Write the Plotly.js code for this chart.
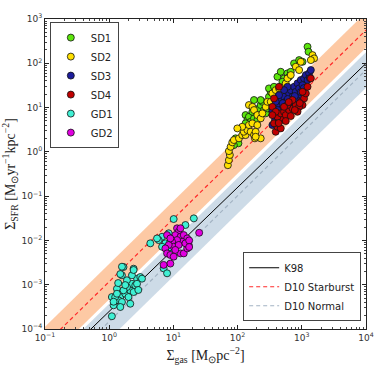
<!DOCTYPE html>
<html>
<head>
<meta charset="utf-8">
<script src="https://cdn.plot.ly/plotly-3.0.1.min.js"></script>
<style>
  html, body { margin: 0; padding: 0; background: #fff; }
  #chart { width: 374px; height: 374px; }
</style>
</head>
<body>
<div id="chart"></div>
<script>
// Scatter groups: Sigma_gas [Msun/pc^2] vs Sigma_SFR [Msun/yr/kpc^2]
const sd1X = [93,103,133,142,150,160,133,180,203,170,191,215,229,243,258,274,291,308,328,308,369,417,470,529,598,673,634,758,908,1026,1228,1273,499,229,348,180,87.5];
const sd1Y = [2.02,1.56,6.77,5.22,6.20,4.78,4.40,5.71,5.22,8.04,8.78,9.59,11.4,13.5,8.78,7.40,9.59,17.5,22.7,27.1,29.5,49.6,64.3,45.6,59.2,64.3,49.6,99.5,118,108,236,182,38.2,14.8,13.5,14.8,1.42];

const sd2X = [70.5,73.1,75.8,73.1,77.8,82.6,87.5,105,118,133,125,142,160,180,186,191,150,170,203,118,99,150,170,180,203,229,243,274,291,348,392,442,529,562,598,673,806,908,964,1469,1557,1383,229,191,328];
const sd2Y = [0.50,0.65,0.85,1.04,1.30,1.64,1.85,2.02,2.39,2.39,2.84,3.10,2.84,2.39,2.02,2.84,4.03,4.40,4.03,3.69,3.39,11.4,10.4,8.78,6.77,5.71,7.40,10.4,13.5,20.9,24.8,27.1,29.5,35.2,45.6,54.2,83.4,70.3,108,153,129,118,2.02,2.19,13.5];

const sd3X = [369,392,442,470,529,562,634,673,716,758,806,857,908,964,1026,1086,1155,1300,1383,1228,499,417,383,348,598,529,442,470,758,908,392,673,348,604,836,1074,1334,505,422,778,964];
const sd3Y = [7.40,9.59,11.4,14.8,17.5,13.5,20.9,24.8,17.5,29.5,22.7,35.2,27.1,41.8,32.2,45.6,54.2,59.2,70.3,41.8,9.59,6.77,5.22,4.03,29.5,24.8,19.1,8.04,12.4,17.5,13.5,9.59,8.78,15.6,14.8,27.5,46.3,12.6,8.78,18.2,22.4];

const sd4X = [392,417,369,442,499,417,470,529,562,634,716,806,964,1026,1086,1155,908,598,348,369,442,529,716,857,392,1228,1026,1383,470,348,673,437,778,930,562,626];
const sd4Y = [2.84,3.69,4.40,4.78,5.71,6.20,7.40,8.04,6.77,8.78,9.59,11.4,13.5,11.4,16.1,20.9,10.4,11.4,10.4,16.1,29.5,10.4,14.8,8.04,8.04,29.5,22.7,45.6,3.39,6.77,6.43,4.47,8.78,12.6,4.96,13.3];

const gd1X = [1.10,1.32,1.58,1.67,2.40,1.17,1.10,1.49,1.78,2.13,2.26,1.89,2.71,3.05,3.24,2.55,1.89,1.40,1.58,1.24,1.67,2.00,2.40,1.49,1.32,2.13,2.26,2.71,1.17,1.58,2.40,1.49,1.78,1.38,2.84,10.1,20.8,15.4,8.45,6.66,5.89,4.37,7.50,6.66,8.45,9.55,7.05,7.97,5.56,8.97];
const gd1Y = [5.27e-4,8.1e-4,1.63e-3,2.51e-3,2.30e-3,3.43e-4,1.94e-4,5.27e-4,6.26e-4,7.48e-4,1.05e-3,1.26e-3,1.37e-3,1.49e-3,1.37e-3,9.7e-4,8.87e-4,4.45e-4,4.07e-4,5.27e-4,7.48e-4,5.27e-4,6.84e-4,3.14e-4,6.26e-4,3.72e-4,1.63e-3,1.05e-3,4.13e-4,2.55e-3,2.15e-3,1.74e-3,9.8e-4,1.09e-3,7.6e-4,0.0304,0.0315,0.0223,0.0145,0.0121,0.0102,0.0086,0.0086,0.0072,0.0066,0.0051,0.00234,0.00181,0.0111,0.0093];

const gd2X = [11.4,12.1,10.7,12.9,14.5,16.4,13.7,11.4,9.55,10.1,12.1,8.45,7.50,7.97,8.97,10.1,12.9,14.5,16.4,17.3,15.4,8.97,7.05,7.97,8.97,12.9,10.7,25.2,17.6,17.6];
const gd2Y = [0.0188,0.0157,0.0132,0.0121,0.0132,0.0111,0.0093,0.0102,0.0093,0.0072,0.0079,0.0079,0.0066,0.0051,0.0047,0.0043,0.0051,0.0051,0.0066,0.0079,0.0086,0.0030,0.0028,0.0132,0.0111,0.0188,0.0061,0.0149,0.0100,0.0071];

// Tick positions and labels
const xTickVals = [0.1, 1, 10, 100, 1000, 10000];
const xTickText = ["10<sup>−1</sup>", "10<sup>0</sup>", "10<sup>1</sup>", "10<sup>2</sup>", "10<sup>3</sup>", "10<sup>4</sup>"];
const yTickVals = [1e-4, 1e-3, 1e-2, 1e-1, 1, 10, 100, 1000];
const yTickText = ["10<sup>−4</sup>", "10<sup>−3</sup>", "10<sup>−2</sup>", "10<sup>−1</sup>", "10<sup>0</sup>", "10<sup>1</sup>", "10<sup>2</sup>", "10<sup>3</sup>"];

// Relations: log(SFR) = slope * log(gas) + offset
const lineX = [0.1, 1e4];
const k98 = { slope: 1.4, offset: Math.log10(2.5e-4) };
const d10Starburst = { slope: 1.42, offset: -2.93 };
const d10Normal = { slope: 1.42, offset: -3.83 };
const bandHalfWidth = 0.4; // dex

/* ---------- Helpers ---------- */

function relation(rel, shift) {
  return lineX.map((x) => Math.pow(10, rel.slope * Math.log10(x) + rel.offset + (shift || 0)));
}

function scatterTrace(name, xs, ys, color) {
  return {
    x: xs, y: ys, name: name, type: "scatter", mode: "markers",
    marker: { color: color, size: 7, line: { color: "#111", width: 0.8 } },
    legend: "legend",
  };
}

function bandTraces(rel, color) {
  return [
    { x: lineX, y: relation(rel, -bandHalfWidth), mode: "lines", line: { width: 0 },
      showlegend: false, hoverinfo: "skip" },
    { x: lineX, y: relation(rel, bandHalfWidth), mode: "lines", line: { width: 0 },
      fill: "tonexty", fillcolor: color, showlegend: false, hoverinfo: "skip" },
  ];
}

/* ---------- Traces ---------- */

const traces = [
  ...bandTraces(d10Starburst, "#fdc9a4"),
  ...bandTraces(d10Normal, "#cddbe7"),
  { x: lineX, y: relation(k98), name: "K98", mode: "lines",
    line: { color: "#000", width: 1 }, legend: "legend2" },
  { x: lineX, y: relation(d10Starburst), name: "D10 Starburst", mode: "lines",
    line: { color: "#ff2a2a", width: 1.2, dash: "4px,3px" }, legend: "legend2" },
  { x: lineX, y: relation(d10Normal), name: "D10 Normal", mode: "lines",
    line: { color: "#a3b3c3", width: 1.2, dash: "4px,3px" }, legend: "legend2" },
  scatterTrace("SD1", sd1X, sd1Y, "#5ce60c"),
  scatterTrace("SD2", sd2X, sd2Y, "#ffe000"),
  scatterTrace("SD3", sd3X, sd3Y, "#1c1c9c"),
  scatterTrace("SD4", sd4X, sd4Y, "#c00000"),
  scatterTrace("GD1", gd1X, gd1Y, "#3ff0d4"),
  scatterTrace("GD2", gd2X, gd2Y, "#e000e0"),
];

const axisCommon = {
  type: "log",
  tickmode: "array",
  showgrid: false,
  zeroline: false,
  showline: true,
  linecolor: "#222",
  linewidth: 1,
  mirror: "allticks",
  ticks: "inside",
  ticklen: 4,
  tickcolor: "#222",
  tickfont: { family: "DejaVu Sans", size: 9, color: "#333" },
  minor: { ticks: "inside", ticklen: 2, tickcolor: "#444", dtick: "D1", showgrid: false },
};

const layout = {
  width: 374,
  height: 374,
  margin: { l: 45, r: 8, t: 19, b: 45 },
  paper_bgcolor: "#fff",
  plot_bgcolor: "#fff",
  xaxis: {
    ...axisCommon,
    range: [-1, 4],
    tickvals: xTickVals,
    ticktext: xTickText,
    title: {
      text: "Σ<sub>gas</sub> [M<sub>⊙</sub>pc<sup>−2</sup>]",
      font: { family: "Liberation Serif", size: 14, color: "#222" },
      standoff: 8,
    },
  },
  yaxis: {
    ...axisCommon,
    range: [-4, 3],
    tickvals: yTickVals,
    ticktext: yTickText,
    title: {
      text: "Σ<sub>SFR</sub> [M<sub>⊙</sub>yr<sup>−1</sup>kpc<sup>−2</sup>]",
      font: { family: "Liberation Serif", size: 14, color: "#222" },
      standoff: 2,
    },
  },
  legend: {
    x: 0.015, y: 0.99, xanchor: "left", yanchor: "top",
    bgcolor: "#fff", bordercolor: "#444", borderwidth: 1,
    font: { family: "DejaVu Sans", size: 10, color: "#222" },
    tracegroupgap: 0, itemwidth: 30, traceorder: "normal",
  },
  legend2: {
    x: 0.985, y: 0.025, xanchor: "right", yanchor: "bottom",
    bgcolor: "#fff", bordercolor: "#444", borderwidth: 1,
    font: { family: "DejaVu Sans", size: 10, color: "#222" },
    tracegroupgap: 0, traceorder: "normal",
  },
  showlegend: true,
};

Plotly.newPlot("chart", traces, layout, { staticPlot: true, displayModeBar: false });
</script>
</body>
</html>
